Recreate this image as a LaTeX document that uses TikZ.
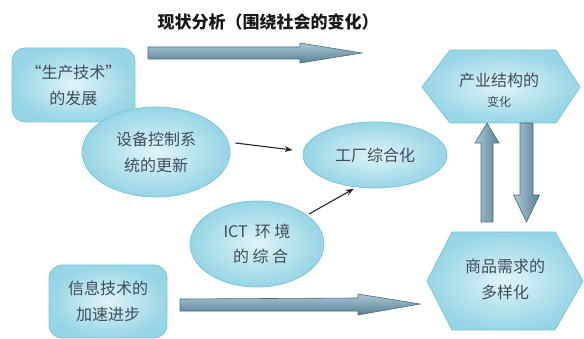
\documentclass[tikz,border=0pt]{standalone}
\usepackage{fontspec}
\setmainfont{Noto Sans CJK SC}
\usetikzlibrary{shapes.geometric,arrows.meta,calc}
\definecolor{cyanin}{RGB}{224,244,248}
\definecolor{cyanout}{RGB}{150,213,229}
\definecolor{cyanedge}{RGB}{125,198,218}
\definecolor{txt}{RGB}{65,78,90}
\definecolor{arrlight}{RGB}{170,200,214}
\definecolor{arrdark}{RGB}{88,128,148}
\definecolor{arredge}{RGB}{72,108,128}
\tikzset{
  bubble/.style={inner color=cyanin, outer color=cyanout, draw=cyanedge, line width=0.8pt,
    text=txt, align=center, font=\fontsize{16}{26}\selectfont},
  roundbox/.style={bubble, rectangle, rounded corners=13pt},
  oval/.style={bubble, ellipse},
  hexfill/.style={inner color=cyanin, outer color=cyanout, draw=cyanedge, line width=0.8pt},
  label/.style={text=txt, align=center, font=\fontsize{16}{26}\selectfont},
  fatH/.style={top color=arrlight, bottom color=arrdark, draw=arredge, line width=0.6pt},
  fatV/.style={left color=arrlight, right color=arrdark, draw=arredge, line width=0.6pt},
  thinarrow/.style={-{Stealth[length=8pt,width=6pt]}, line width=1.1pt, black!85}
}
\begin{document}
\begin{tikzpicture}[x=1pt,y=-1pt]
\useasboundingbox (0,0) rectangle (584,339);
\fill[white] (0,0) rectangle (584,339);

% title
\node[font=\fontsize{17}{20}\selectfont\bfseries, text=black!90] (title) at (268,22) {现状分析（围绕社会的变化）};

% left boxes
\node[roundbox, minimum width=123pt, minimum height=74pt] (box1) at (73.5,85) {“生产技术”\\的发展};
\node[oval, minimum width=148pt, minimum height=90pt, inner sep=0pt] (ell1) at (156,152) {设备控制系\\统的更新};
\node[oval, minimum width=144pt, minimum height=66pt, inner sep=0pt] (ell2) at (375,155) {工厂综合化};
\node[oval, minimum width=134pt, minimum height=86pt, inner sep=0pt, font=\fontsize{16}{25}\selectfont] (ell3) at (257,244) {ICT\ \ 环\ 境\\\ \ 的\ 综\ 合};
\node[roundbox, minimum width=118pt, minimum height=73pt] (box2) at (108,301.5) {信息技术的\\加速进步};

% hexagons
\path[hexfill] (422,87) -- (450,50) -- (556,50) -- (580,87) -- (556,123) -- (450,123) -- cycle;
\node[label] (hex1) at (499,80) {产业结构的};
\node[label, font=\fontsize{12}{14}\selectfont] (hex1b) at (499,102) {变化};
\path[hexfill] (427,281) -- (452,232) -- (555,232) -- (583,281) -- (555,330) -- (452,330) -- cycle;
\node[label] (hex2) at (505,279) {商品需求的\\多样化};

% connector coordinates for the fat arrows
\coordinate (a1s) at (148,53);
\coordinate (a1e) at (362,53);
\coordinate (a2s) at (180,305);
\coordinate (a2e) at (420,304);
\coordinate (a3s) at (487,222);
\coordinate (a3e) at (487,123);
\coordinate (a4s) at (526.5,123);
\coordinate (a4e) at (526.5,222);

% top fat arrow
\path[fatH] ($(a1s)+(0,-6)$) -- ($(a1e)+(-62,-6)$) -- ($(a1e)+(-62,-10)$) -- (a1e)
  -- ($(a1e)+(-62,10)$) -- ($(a1e)+(-62,6)$) -- ($(a1s)+(0,6)$) -- cycle;
% bottom fat arrow
\path[fatH] ($(a2s)+(0,-6)$) -- ($(a2e)+(-62,-6)$) -- ($(a2e)+(-62,-10)$) -- (a2e)
  -- ($(a2e)+(-62,11)$) -- ($(a2e)+(-62,7)$) -- ($(a2s)+(0,6)$) -- cycle;
% up arrow
\path[fatV] ($(a3s)+(-6,0)$) -- ($(a3e)+(-6,20)$) -- ($(a3e)+(-12,20)$) -- (a3e)
  -- ($(a3e)+(12,20)$) -- ($(a3e)+(6,20)$) -- ($(a3s)+(6,0)$) -- cycle;
% down arrow
\path[fatV] ($(a4s)+(-6.5,0)$) -- ($(a4e)+(-6.5,-27)$) -- ($(a4e)+(-13,-27)$) -- (a4e)
  -- ($(a4e)+(13,-27)$) -- ($(a4e)+(6.5,-27)$) -- ($(a4s)+(6.5,0)$) -- cycle;

% thin arrows
\draw[thinarrow] ($(ell1.east)+(5,-9)$) -- ($(ell2.west)+(-10,-5)$);
\draw[thinarrow, shorten <=2pt, shorten >=3pt] (ell3.30) -- (ell2.240);
\end{tikzpicture}
\end{document}
